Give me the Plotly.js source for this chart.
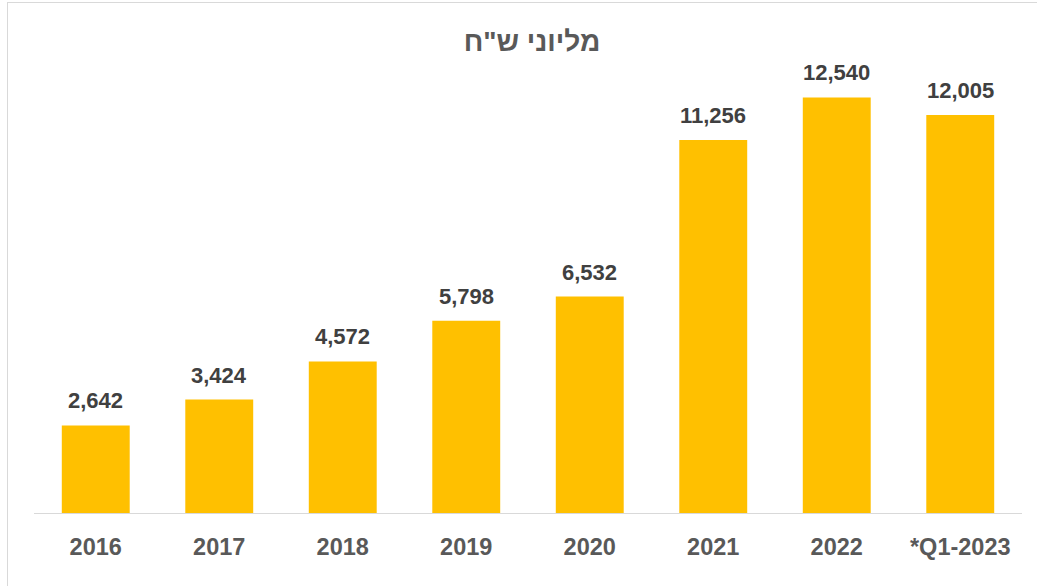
<!DOCTYPE html>
<html>
<head>
<meta charset="utf-8">
<script src="https://cdn.plot.ly/plotly-3.0.1.min.js"></script>
<style>
  html, body { margin:0; padding:0; background:#fff; }
  #wrap { position:relative; width:1037px; height:586px; overflow:hidden; }
  #chart { width:1037px; height:586px; }
  #frame { position:absolute; left:7px; top:2px; width:1040px; height:600px; border:1px solid #d9d9d9; pointer-events:none; box-sizing:border-box; }
</style>
</head>
<body>
<div id="wrap">
  <div id="chart"></div>
  <div id="frame"></div>
</div>
<script>
const categories = ['2016', '2017', '2018', '2019', '2020', '2021', '2022', '*Q1-2023'];
const values = [2642, 3424, 4572, 5798, 6532, 11256, 12540, 12005];
const chartTitle = 'מליוני ש"ח';

const fmt = v => v.toLocaleString('en-US');
const positions = categories.map((c, i) => i);

const annotations = positions.map((p, i) => ({
  x: p, y: values[i], xref: 'x', yref: 'y',
  text: '<b>' + fmt(values[i]) + '</b>', showarrow: false,
  yanchor: 'bottom', yshift: 10,
  font: { family: 'Liberation Sans, Arial, sans-serif', size: 22, color: '#404040' }
}));

const trace = {
  type: 'bar', x: positions, y: values,
  marker: { color: '#FFC000', line: { width: 0 } },
  width: 0.55, hoverinfo: 'none'
};

const layout = {
  width: 1037, height: 586,
  margin: { l: 34, r: 15, t: 49, b: 73 },
  paper_bgcolor: '#ffffff', plot_bgcolor: '#ffffff',
  showlegend: false,
  title: {
    text: '<b>' + chartTitle + '</b>',
    x: 0.513, xanchor: 'center', y: 0.93, yanchor: 'middle', yref: 'container',
    font: { family: 'Liberation Sans, Arial, sans-serif', size: 28, color: '#595959' }
  },
  xaxis: {
    type: 'linear', range: [-0.5, categories.length - 0.5],
    tickmode: 'array', tickvals: positions, ticktext: categories.map(c => '<b>' + c + '</b>'),
    showline: true, linecolor: '#d9d9d9', linewidth: 1,
    ticks: '', ticklabelstandoff: 13,
    tickfont: { family: 'Liberation Sans, Arial, sans-serif', size: 23.5, color: '#595959' },
    showgrid: false, zeroline: false
  },
  yaxis: {
    range: [0, 14000], visible: false, showgrid: false, zeroline: false
  },
  annotations: annotations
};

Plotly.newPlot('chart', [trace], layout, { displayModeBar: false, staticPlot: true });
</script>
</body>
</html>
